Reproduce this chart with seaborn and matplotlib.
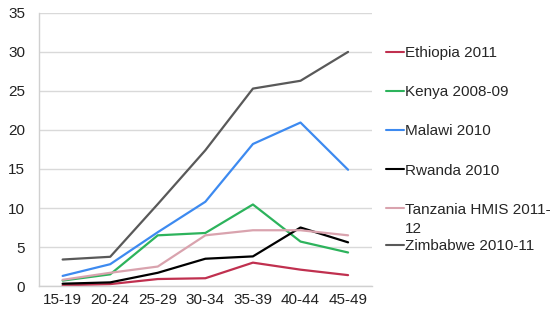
import numpy as np
import pandas as pd
import seaborn as sns
import matplotlib.pyplot as plt
from matplotlib.ticker import FixedLocator

age_groups = ["15-19", "20-24", "25-29", "30-34", "35-39", "40-44", "45-49"]
countries = ["Ethiopia 2011", "Kenya 2008-09", "Malawi 2010", "Rwanda 2010",
             "Tanzania HMIS 2011-12", "Zimbabwe 2010-11"]
ethiopia = [0.1, 0.25, 0.9, 1.0, 3.0, 2.1, 1.4]
kenya = [0.7, 1.5, 6.5, 6.8, 10.45, 5.7, 4.3]
malawi = [1.3, 2.8, 6.9, 10.8, 18.2, 20.95, 14.9]
rwanda = [0.3, 0.47, 1.7, 3.5, 3.8, 7.5, 5.6]
tanzania = [0.8, 1.7, 2.5, 6.5, 7.15, 7.15, 6.5]
zimbabwe = [3.4, 3.75, 10.5, 17.4, 25.3, 26.3, 30.0]
colors = ["#C0304F", "#2DB35C", "#3D8AF0", "#000000", "#D9A3AE", "#595959"]

series = [ethiopia, kenya, malawi, rwanda, tanzania, zimbabwe]
rows = []
for name, vals in zip(countries, series):
    for i, (g, v) in enumerate(zip(age_groups, vals)):
        rows.append({"pos": i, "age": g, "country": name, "value": v})
df = pd.DataFrame(rows)

sns.set_style("white")
plt.rcParams['font.family'] = ['Liberation Sans', 'DejaVu Sans']

fig = plt.figure(figsize=(5.55, 3.14), dpi=100)
ax = fig.add_axes([0.070, 0.089, 0.600, 0.870])

sns.lineplot(data=df, x="pos", y="value", hue="country", hue_order=countries,
             palette=colors, linewidth=1.6, ax=ax, sort=False, legend=False)

ax.set_xlim(-0.5, 6.5)
ax.set_ylim(0, 35)
ax.set_yticks(np.arange(0, 36, 5))
ax.set_xticks(range(7))
ax.set_xticklabels(age_groups)
ax.xaxis.set_minor_locator(FixedLocator(np.arange(-0.5, 7, 1)))
ax.tick_params(axis="x", which="major", length=0, pad=5, labelsize=11, labelcolor="#222222")
ax.tick_params(axis="x", which="minor", length=5, color="#D0D0D0", width=1)
ax.tick_params(axis="y", length=0, pad=10, labelsize=11, labelcolor="#222222")
ax.yaxis.grid(True, color="#D9D9D9", linewidth=1)
ax.set_axisbelow(True)
ax.set_xlabel("")
ax.set_ylabel("")
for s in ["top", "right"]:
    ax.spines[s].set_visible(False)
for s in ["left", "bottom"]:
    ax.spines[s].set_color("#D0D0D0")
    ax.spines[s].set_linewidth(1)

# legend: Tanzania label wraps like the original, Zimbabwe sits right under it
handles = [plt.Line2D([], [], color=c, linewidth=1.5) for c in colors]
leg_kw = dict(loc="upper left", bbox_transform=fig.transFigure, frameon=False,
              fontsize=11, handlelength=1.2, handletextpad=0.05, borderaxespad=0)
labels1 = countries[:4] + ["Tanzania HMIS 2011-"]
leg1 = ax.legend(handles[:5], labels1, bbox_to_anchor=(0.684, 0.873),
                 labelspacing=1.65, **leg_kw)
ax.add_artist(leg1)
ax.legend(handles[5:], countries[5:], bbox_to_anchor=(0.684, 0.258), **leg_kw)

fig.canvas.draw()
bb = leg1.get_texts()[4].get_window_extent()
fig.text(bb.x0 / fig.bbox.width, (bb.y0 - 19) / fig.bbox.height, "12",
         fontsize=11, color=leg1.get_texts()[4].get_color(), va="bottom")

fig.savefig("out.png", dpi=100)
